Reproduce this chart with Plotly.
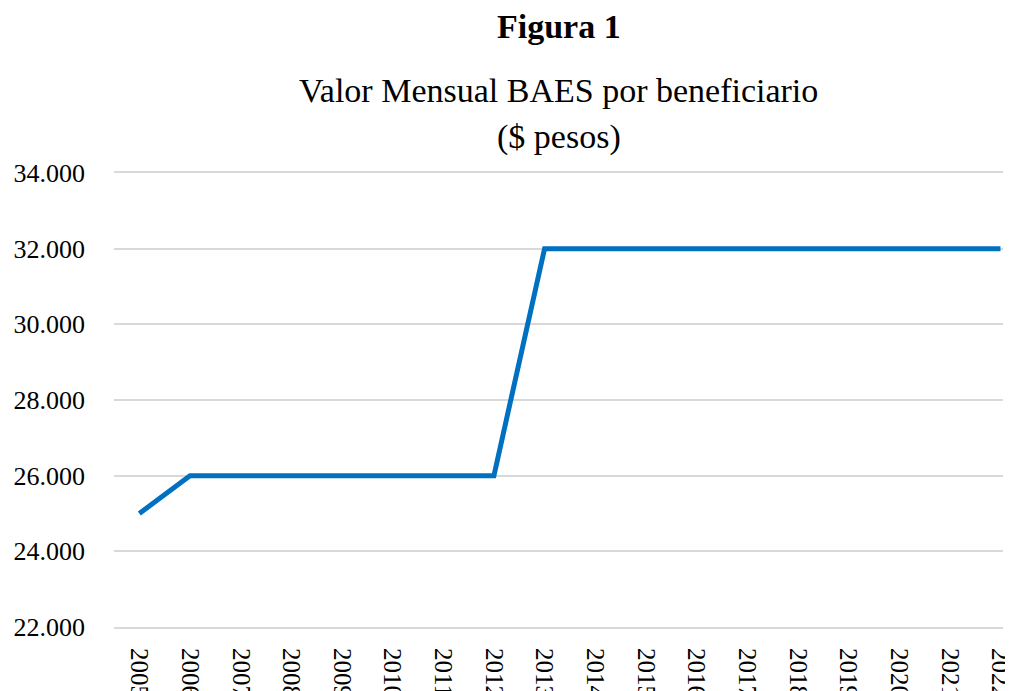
import plotly.graph_objects as go

years = list(range(2005, 2023))
values = [25000, 26000, 26000, 26000, 26000, 26000, 26000, 26000,
          32000, 32000, 32000, 32000, 32000, 32000, 32000, 32000, 32000, 32000]
y_ticks = [22000, 24000, 26000, 28000, 30000, 32000, 34000]

FONT = "Liberation Serif, Times New Roman, DejaVu Serif, serif"
# page has an 8px body margin; figure sized/placed to compensate
W, H = 1005, 683
ML, MR, MT, MB = 106, 10, 165, 64
PH = H - MT - MB

fig = go.Figure()
fig.add_trace(go.Scatter(
    x=years, y=values, mode="lines",
    line=dict(color="#0070C0", width=5),
    hoverinfo="skip", showlegend=False,
))

def py(pix):
    return (H - MB - pix) / PH

fig.add_annotation(text="<b>Figura 1</b>", x=0.5, xref="paper", y=py(18), yref="paper",
                   showarrow=False, yanchor="middle", font=dict(family=FONT, size=34, color="black"))
fig.add_annotation(text="Valor Mensual BAES por beneficiario", x=0.5, xref="paper", y=py(82), yref="paper",
                   showarrow=False, yanchor="middle", font=dict(family=FONT, size=34, color="black"))
fig.add_annotation(text="($ pesos)", x=0.5, xref="paper", y=py(129), yref="paper",
                   showarrow=False, yanchor="middle", font=dict(family=FONT, size=34, color="black"))

fig.update_layout(
    width=W, height=H,
    margin=dict(l=ML, r=MR, t=MT, b=MB),
    paper_bgcolor="white", plot_bgcolor="white",
    separators=",.",
    font=dict(family=FONT, color="black"),
    xaxis=dict(
        range=[2004.5, 2022.05], tickmode="array", tickvals=years,
        ticktext=[str(y) for y in years], tickangle=90,
        showgrid=False, zeroline=False,
        showline=True, linecolor="#d9d9d9", linewidth=2, mirror=True,
        ticks="", ticklabelstandoff=14, automargin=False,
        ticklabeloverflow="allow",
        tickfont=dict(family=FONT, size=25, color="black"),
    ),
    yaxis=dict(
        range=[22000, 34000], tickmode="array", tickvals=y_ticks,
        tickformat=",d", showgrid=True, gridcolor="#d9d9d9", gridwidth=2,
        zeroline=False, showline=False, ticks="", ticklabelstandoff=28,
        automargin=False,
        tickfont=dict(family=FONT, size=26, color="black"),
    ),
)

fig.write_html("out.html")
